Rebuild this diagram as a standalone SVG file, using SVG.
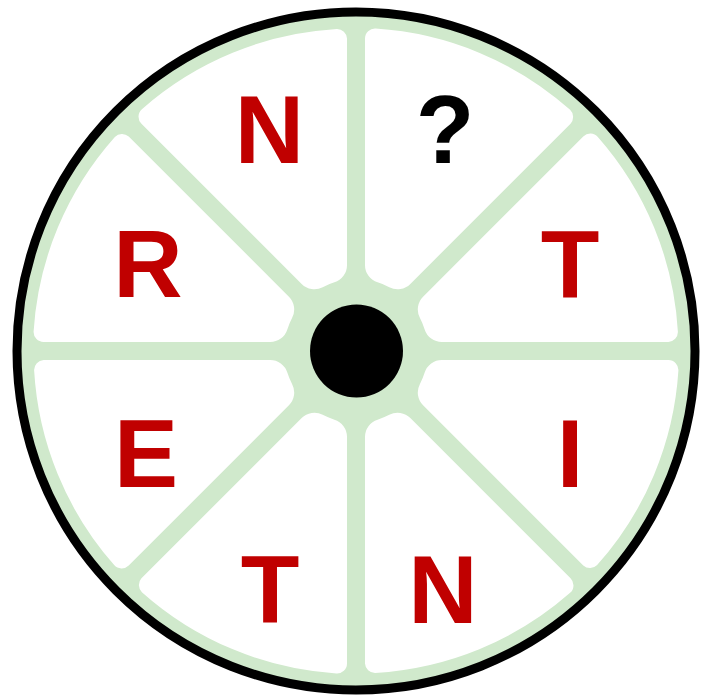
<svg xmlns="http://www.w3.org/2000/svg" xmlns:xlink="http://www.w3.org/1999/xlink" width="702" height="695" viewBox="0 0 702 695">
<style>
.rim{fill:#d0e9cc;stroke:#000;stroke-width:9}
.sec{fill:#fff}
.lt{font-family:"Liberation Sans",Arial,sans-serif;font-weight:bold;font-size:96px;text-anchor:middle;fill:#c00000}
.q{fill:#000}
</style>
<defs>
<path id="sector" class="sec" d="M 85.85 9 L 312.42 9 A 10 10 0 0 1 322.4 19.61 A 323 323 0 0 1 241.13 214.11 A 10 10 0 0 1 227.28 214.55 L 67.07 54.34 A 18 18 0 0 1 63.84 33.29 A 72 72 0 0 0 68.68 21.6 A 18 18 0 0 1 85.85 9 Z"/>
</defs>
<rect width="702" height="695" fill="#fff"/>
<g id="wheel">
<circle class="rim" cx="356" cy="351" r="339"/>
<g transform="translate(356,351)">
<use xlink:href="#sector" href="#sector"/>
<use xlink:href="#sector" href="#sector" transform="rotate(45)"/>
<use xlink:href="#sector" href="#sector" transform="rotate(90)"/>
<use xlink:href="#sector" href="#sector" transform="rotate(135)"/>
<use xlink:href="#sector" href="#sector" transform="rotate(180)"/>
<use xlink:href="#sector" href="#sector" transform="rotate(225)"/>
<use xlink:href="#sector" href="#sector" transform="rotate(270)"/>
<use xlink:href="#sector" href="#sector" transform="rotate(315)"/>
</g>
<circle id="hub" cx="356.5" cy="351" r="46.5" fill="#000"/>
</g>
<g id="letters">
<text class="lt" x="269.5" y="163">N</text>
<text class="lt q" x="445" y="163">?</text>
<text class="lt" x="570" y="298">T</text>
<text class="lt" x="570" y="487">I</text>
<text class="lt" x="443" y="623">N</text>
<text class="lt" x="270" y="623">T</text>
<text class="lt" x="146" y="487">E</text>
<text class="lt" x="148" y="297">R</text>
</g>
</svg>
